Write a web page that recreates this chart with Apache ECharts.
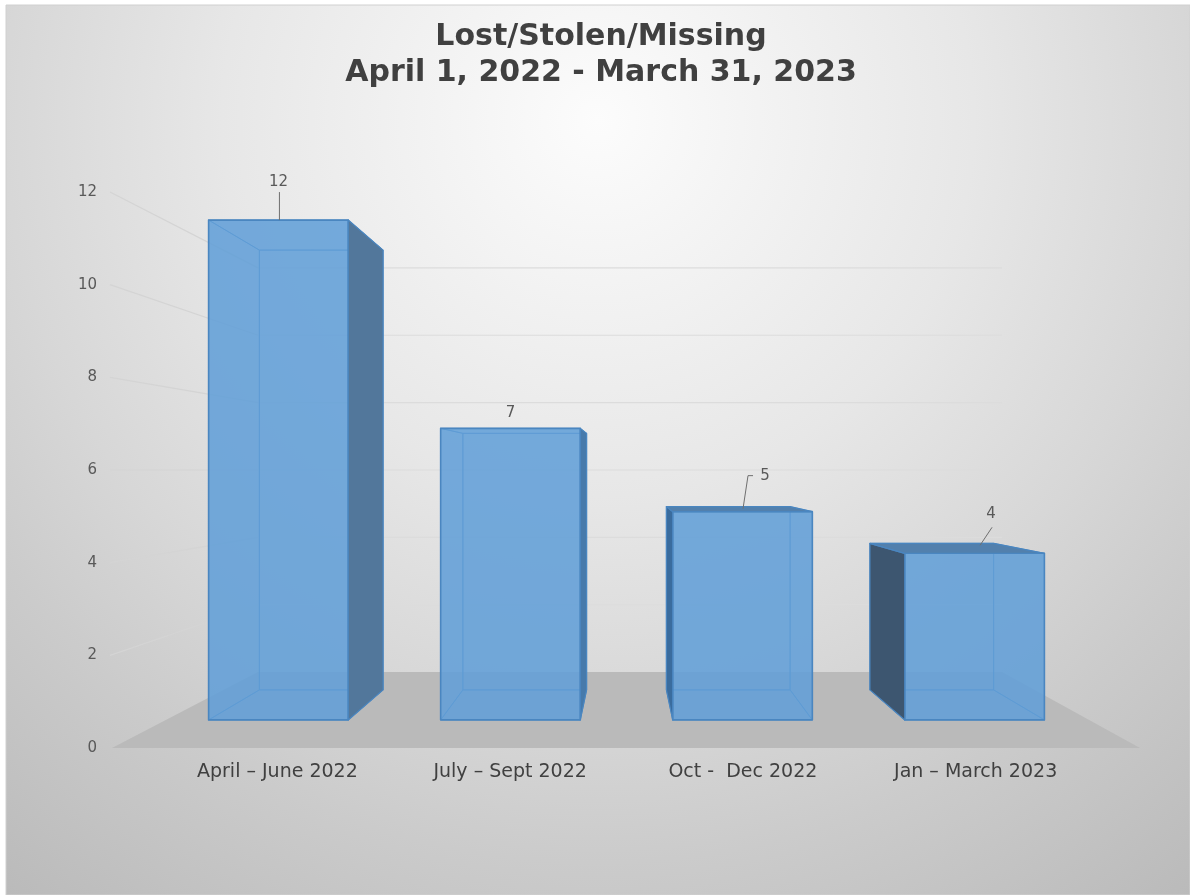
<!DOCTYPE html>
<html>
<head>
<meta charset="utf-8">
<title>Lost/Stolen/Missing</title>
<script src="https://cdn.jsdelivr.net/npm/echarts@6/dist/echarts.min.js"></script>
<style>
  html, body { margin: 0; padding: 0; background: #fff; }
  #chart { width: 1190px; height: 895px; }
</style>
</head>
<body>
<div id="chart"></div>
<script>
const categories = ['April \u2013 June 2022', 'July \u2013 Sept 2022', 'Oct -  Dec 2022', 'Jan \u2013 March 2023'];
const lostValues = [12, 7, 5, 4];
const axisTicks = [2, 4, 6, 8, 10, 12];

// perspective of the original 3D chart: everything shrinks towards this point
const vanishY = 470;
const frontDepth = 0.899;
const backDepth = 0.791;
const wallDepth = 0.727;
const sideShades = ['#52779b', '#477aab', '#3a6c9e', '#3d5670'];
// label offset from the middle of the bar's top edge, plus optional leader line bend
const labelOffsets = [
  { dx: 0, dy: -38, line: [[1, 0], [1, -28]] },
  { dx: 0, dy: -15, line: null },
  { dx: 22.5, dy: -31, line: [[0.5, 2], [5.5, -31], [10.5, -31]] },
  { dx: 16.5, dy: -29, line: [[5.5, 2], [17.5, -16]] }
];

const chart = echarts.init(document.getElementById('chart'));

function renderFloor(params, api) {
  const y0 = api.coord([0, 0])[1];
  const backY = vanishY + (y0 - vanishY) * wallDepth;
  return {
    type: 'polygon',
    silent: true,
    shape: { points: [[112, y0], [1140, y0], [1002, backY], [258, backY]] },
    style: { fill: '#bababa' }
  };
}

function renderWallLine(params, api) {
  const y = api.coord([0, api.value(1)])[1];
  const backY = vanishY + (y - vanishY) * wallDepth;
  return {
    type: 'group',
    silent: true,
    children: [
      {
        type: 'line',
        shape: { x1: 110, y1: y, x2: 258, y2: backY },
        style: { stroke: '#d4d4d4', lineWidth: 1.2 }
      },
      {
        type: 'line',
        shape: { x1: 258, y1: backY, x2: 1002, y2: backY },
        style: { stroke: '#dcdcdc', lineWidth: 1.2 }
      }
    ]
  };
}

function renderBox(params, api) {
  const cs = params.coordSys;
  const vx = cs.x + cs.width / 2;
  const i = api.value(0);
  const val = api.value(1);
  const topY = api.coord([i, val])[1];
  const baseY = api.coord([i, 0])[1];
  const cx = vx + (api.coord([i, val])[0] - vx) * 0.997;
  const half = api.size([1, 0])[0] * 0.3;

  const fl = cx - half;
  const fr = cx + half;
  const backCx = vx + (cx - vx) * 0.877;
  const bl = backCx - half * 0.886;
  const br = backCx + half * 0.886;
  const fTop = vanishY + (topY - vanishY) * frontDepth;
  const fBot = vanishY + (baseY - vanishY) * frontDepth;
  const bTop = vanishY + (topY - vanishY) * backDepth;
  const bBot = vanishY + (baseY - vanishY) * backDepth;

  const edge = '#4a86c0';
  const light = 'rgba(91,155,213,0.16)';
  const front = 'rgba(96,158,216,0.84)';
  const innerLine = 'rgba(74,134,194,0.75)';

  const poly = (pts, fill, stroke, width) => ({
    type: 'polygon',
    shape: { points: pts },
    style: { fill: fill, stroke: stroke || innerLine, lineWidth: width || 1, lineJoin: 'round' }
  });

  const rightOut = br > fr;
  const topOut = bTop < fTop;
  const children = [
    poly([[bl, bTop], [br, bTop], [br, bBot], [bl, bBot]], light),
    poly([[bl, bBot], [br, bBot], [fr, fBot], [fl, fBot]], light)
  ];
  // side that lies inside the silhouette is only a tint
  children.push(poly(
    rightOut ? [[fl, fTop], [bl, bTop], [bl, bBot], [fl, fBot]] : [[fr, fTop], [br, bTop], [br, bBot], [fr, fBot]],
    light
  ));
  if (!topOut) {
    children.push(poly([[fl, fTop], [fr, fTop], [br, bTop], [bl, bTop]], light));
  }
  children.push(poly([[fl, fTop], [fr, fTop], [fr, fBot], [fl, fBot]], front, edge, 1.6));
  // outer, darker faces go on top of the front tint edge
  children.push(poly(
    rightOut ? [[fr, fTop], [br, bTop], [br, bBot], [fr, fBot]] : [[fl, fTop], [bl, bTop], [bl, bBot], [fl, fBot]],
    sideShades[i],
    edge,
    1.2
  ));
  if (topOut) {
    children.push(poly([[bl, bTop], [br, bTop], [fr, fTop], [fl, fTop]], '#5280ad', edge, 1.2));
  }

  // data label and leader line
  const off = labelOffsets[i];
  const lx = (fl + fr) / 2;
  const ly = topOut ? bTop : fTop;
  if (off.line) {
    children.push({
      type: 'polyline',
      shape: { points: off.line.map(p => [lx + p[0], ly + p[1]]) },
      style: { fill: 'none', stroke: '#6f6f6f', lineWidth: 1 }
    });
  }
  children.push({
    type: 'text',
    style: {
      x: lx + off.dx,
      y: ly + off.dy,
      text: String(val),
      fill: '#595959',
      font: '15px "DejaVu Sans"',
      textAlign: 'center',
      textVerticalAlign: 'middle'
    }
  });

  return { type: 'group', children: children };
}

const option = {
  animation: false,
  backgroundColor: '#ffffff',
  graphic: [
    {
      type: 'rect',
      z: -10,
      silent: true,
      shape: { x: 6, y: 5, width: 1184, height: 890 },
      style: {
        stroke: '#d0d0d0',
        lineWidth: 1,
        fill: new echarts.graphic.RadialGradient(0.5, 0.13, 1.11, [
          { offset: 0, color: '#fcfcfc' },
          { offset: 0.38, color: '#e7e7e7' },
          { offset: 0.6, color: '#d7d7d7' },
          { offset: 0.75, color: '#cbcbcb' },
          { offset: 1, color: '#b9b9b9' }
        ])
      }
    }
  ],
  title: {
    text: 'Lost/Stolen/Missing\nApril 1, 2022 - March 31, 2023',
    left: 596,
    top: 14,
    textAlign: 'center',
    textStyle: {
      fontFamily: 'DejaVu Sans',
      fontWeight: 'bold',
      fontSize: 30,
      lineHeight: 36,
      color: '#404040'
    }
  },
  grid: { left: 161, right: 98, top: 192, bottom: 147 },
  xAxis: {
    type: 'category',
    data: categories,
    axisLine: { show: false },
    axisTick: { show: false },
    axisLabel: {
      color: '#404040',
      fontFamily: 'DejaVu Sans',
      fontSize: 19,
      margin: 15
    }
  },
  yAxis: {
    type: 'value',
    min: 0,
    max: 12,
    interval: 2,
    axisLine: { show: false },
    axisTick: { show: false },
    splitLine: { show: false },
    axisLabel: {
      color: '#595959',
      fontFamily: 'DejaVu Sans',
      fontSize: 15,
      margin: 64,
      padding: [0, 0, 3, 0]
    }
  },
  series: [
    {
      type: 'custom',
      name: 'Floor',
      z: 1,
      clip: false,
      silent: true,
      renderItem: renderFloor,
      data: [[0, 0]]
    },
    {
      type: 'custom',
      name: 'Wall',
      z: 2,
      clip: false,
      silent: true,
      renderItem: renderWallLine,
      data: axisTicks.map(t => [0, t])
    },
    {
      type: 'custom',
      name: 'Lost/Stolen/Missing',
      z: 3,
      clip: false,
      renderItem: renderBox,
      data: lostValues.map((v, i) => [i, v])
    }
  ]
};

chart.setOption(option);
</script>
</body>
</html>
